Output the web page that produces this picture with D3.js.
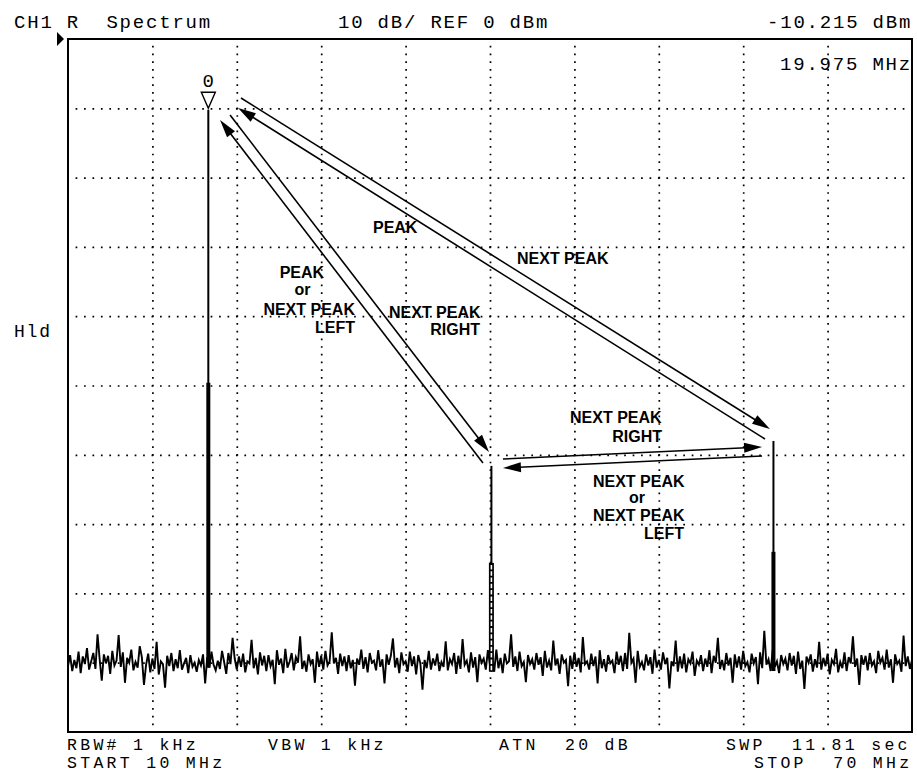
<!DOCTYPE html>
<html><head><meta charset="utf-8">
<script src="https://cdn.jsdelivr.net/npm/d3@7"></script>
<style>html,body{margin:0;padding:0;background:#fff;}svg{display:block}</style>
</head><body>
<svg id="c" width="917" height="777"></svg>
<script>
// ---- data ----
const freqStart = 10, freqStop = 70;          // MHz
const refLevel = 0, dbPerDiv = 10;            // dBm
const freqGrid = [16, 22, 28, 34, 40, 46, 52, 58, 64];
const levelGrid = [-10, -20, -30, -40, -50, -60, -70, -80, -90];
const markerFreq = 19.975, markerLevel = -10.215;
const peakFreqs = [19.975, 40.1, 60.15];
const peakLevels = [-10.215, -61.6, -58.0];
const peakSkirtLevels = [-49.6, -75.6, -74.0];
const noiseLevels = [
-90.5,-88.9,-91.2,-89.6,-90.8,-88.4,-91.5,-89.1,-90.2,-87.9,-91.0,-89.8,-88.6,-90.9,-85.9,-89.5,-92.6,-88.8,-90.1,-89.0,
-91.6,-88.3,-90.4,-89.7,-86.0,-90.6,-88.5,-92.9,-89.3,-90.0,-88.1,-91.1,-89.9,-90.7,-87.6,-89.2,-93.2,-90.3,-88.7,-91.4,
-89.4,-90.9,-87.0,-91.7,-89.8,-90.2,-93.6,-89.0,-90.5,-88.6,-91.2,-89.5,-90.8,-88.2,-91.0,-90.1,-89.3,-91.5,-88.9,-90.6,
-90.0,-91.3,-89.6,-90.4,-88.8,-93.0,-89.2,-90.7,-88.4,-90.3,-91.1,-89.7,-90.9,-88.3,-89.9,-91.6,-88.6,-90.2,-86.4,-89.4,
-91.0,-89.1,-90.6,-88.7,-91.4,-89.8,-90.1,-86.7,-90.8,-89.3,-91.7,-88.5,-90.4,-89.0,-91.2,-88.9,-90.5,-89.6,-93.1,-88.2,
-90.3,-89.4,-91.5,-88.0,-90.7,-89.9,-88.6,-91.1,-89.2,-90.0,-86.2,-90.9,-89.7,-91.3,-88.8,-90.2,-89.5,-92.9,-88.4,-90.6,
-89.0,-91.0,-88.3,-90.4,-89.8,-85.6,-90.1,-89.3,-91.6,-88.7,-90.5,-89.1,-91.2,-88.9,-90.8,-89.6,-93.3,-89.4,-90.3,-88.1,
-90.9,-89.2,-91.4,-88.6,-90.0,-89.7,-91.1,-88.2,-90.6,-89.5,-93.0,-88.8,-90.3,-89.0,-86.5,-90.7,-89.3,-91.5,-88.5,-90.2,
-89.8,-91.3,-88.4,-90.5,-89.1,-91.7,-88.9,-90.1,-93.9,-89.6,-90.8,-88.3,-91.0,-89.4,-90.4,-88.7,-91.2,-89.9,-90.6,-86.9,
-91.1,-89.5,-90.2,-88.6,-91.6,-89.0,-90.9,-86.6,-90.3,-89.7,-91.4,-88.5,-90.7,-89.2,-92.8,-88.8,-90.0,-89.4,-91.0,-88.2,
-90.4,-89.6,-91.3,-88.1,-90.8,-89.3,-91.5,-88.7,-90.1,-89.8,-85.9,-90.6,-89.1,-91.2,-88.4,-90.5,-89.9,-92.8,-88.9,-90.2,
-89.5,-91.0,-88.6,-90.3,-89.2,-91.9,-88.3,-90.7,-89.7,-91.1,-86.8,-90.4,-89.4,-91.6,-88.8,-90.0,-89.6,-93.4,-89.0,-90.9,
-88.5,-90.6,-89.3,-91.4,-86.3,-90.2,-89.8,-91.0,-88.7,-90.5,-89.1,-93.0,-88.2,-90.8,-89.5,-91.3,-88.9,-90.1,-89.7,-91.5,
-88.4,-90.3,-89.0,-91.2,-88.6,-90.9,-85.7,-90.0,-89.4,-92.9,-88.3,-90.6,-89.9,-91.1,-88.8,-90.4,-89.2,-91.6,-88.1,-90.7,
-89.6,-91.0,-88.5,-90.2,-89.3,-93.7,-89.8,-90.5,-86.8,-91.3,-89.1,-90.8,-88.7,-91.4,-89.5,-90.1,-88.4,-91.9,-89.7,-90.3,
-88.9,-91.2,-89.4,-90.6,-88.2,-91.5,-89.0,-90.0,-86.4,-90.9,-89.6,-91.1,-88.6,-90.4,-89.3,-92.9,-88.8,-90.7,-89.1,-91.0,
-88.3,-90.5,-89.9,-91.4,-88.7,-90.1,-89.2,-93.1,-88.5,-90.8,-85.4,-90.3,-89.5,-91.2,-88.1,-90.6,-89.8,-91.5,-88.9,-90.2,
-89.4,-91.1,-88.6,-90.4,-89.0,-91.6,-88.4,-90.9,-89.7,-93.8,-89.1,-90.0,-88.8,-91.3,-89.5,-90.7,-87.0,-91.0,-89.3,-90.5,
-88.7,-91.7,-89.6,-90.2,-88.0,-91.4,-89.9,-90.8,-88.5,-91.2,-89.2,-90.1,-86.2,-90.6,-89.4,-93.2,-88.9,-90.3,-89.0,-91.1,
-88.6,-90.4,-89.8,-91.5,-88.3,-90.0,-89.3,-91.0,-88.1,-90.7,-89.5,-92.9,-88.8,-90.2,-89.7,-91.3,-86.1,-90.5,-89.1,-90.9,
-89.6];
// annotation arrows: [MHz, dBm] start and end
const arrowFrom = [[22.30,-8.51],[59.55,-57.72],[39.50,-61.18],[21.52,-10.97],[40.92,-60.61],[59.34,-60.17]];
const arrowTo   = [[59.90,-56.28],[22.09,-9.96],[20.81,-11.69],[39.93,-59.60],[59.34,-58.87],[40.92,-61.90]];
const labelTexts  = ["PEAK","NEXT PEAK","PEAK","or","NEXT PEAK","LEFT","NEXT PEAK","RIGHT","NEXT PEAK","RIGHT","NEXT PEAK","or","NEXT PEAK","LEFT"];
const labelFreqs  = [31.68,41.92,26.63,26.67,30.40,30.40,32.82,39.29,45.69,52.23,47.32,50.45,47.32,53.79];
const labelLevels = [-27.99,-32.47,-34.49,-36.94,-39.83,-42.42,-40.26,-42.71,-55.41,-58.15,-64.65,-66.96,-69.55,-72.15];
const labelAnchors = ["start","start","middle","middle","end","end","start","end","start","end","start","middle","start","end"];

// ---- layout ----
const L = 68, R = 912, T = 39, B = 732;
const svg = d3.select("#c");
const x = d3.scaleLinear().domain([freqStart, freqStop]).range([L, R]);
const y = d3.scaleLinear().domain([refLevel, refLevel - 10 * dbPerDiv]).range([T, B]);
const sweepFreqs = noiseLevels.map((_, i) => freqStart + i * (freqStop - freqStart) / (noiseLevels.length - 1));

// grid through axes
const gx = svg.append("g").attr("transform", `translate(0,${B})`)
  .call(d3.axisBottom(x).tickValues(freqGrid).tickSize(-(B - T)).tickFormat(""));
gx.select(".domain").remove();
gx.selectAll("line").attr("stroke", "#000").attr("stroke-width", 1.7)
  .attr("stroke-dasharray", "1.7 6.0").attr("stroke-dashoffset", 0.85);
const gy = svg.append("g").attr("transform", `translate(${L},0)`)
  .call(d3.axisLeft(y).tickValues(levelGrid).tickSize(-(R - L)).tickFormat(""));
gy.select(".domain").remove();
gy.selectAll("line").attr("stroke", "#000").attr("stroke-width", 1.7)
  .attr("stroke-dasharray", "1.7 6.74").attr("stroke-dashoffset", 0.85);

// clip
svg.append("clipPath").attr("id", "clip").append("rect")
  .attr("x", L).attr("y", T).attr("width", R - L).attr("height", B - T);
const plot = svg.append("g").attr("clip-path", "url(#clip)");

// noise trace
plot.append("path").datum(noiseLevels)
  .attr("d", d3.line().x((d, i) => x(sweepFreqs[i])).y(d => y(d)))
  .attr("fill", "none").attr("stroke", "#000").attr("stroke-width", 1.9)
  .attr("stroke-linejoin", "miter");

// peaks
function baseAt(f) {
  const i = Math.round((f - freqStart) / (freqStop - freqStart) * (noiseLevels.length - 1));
  return Math.min(noiseLevels[i], noiseLevels[i - 1], noiseLevels[i + 1]);
}
peakFreqs.forEach((f, i) => {
  const px = x(f), base = y(baseAt(f));
  plot.append("line").attr("x1", px).attr("x2", px).attr("y1", base).attr("y2", y(peakLevels[i]))
    .attr("stroke", "#000").attr("stroke-width", 2);
  const sk = y(peakSkirtLevels[i]);
  if (i === 1) {
    plot.append("rect").attr("x", px - 2.5).attr("y", sk).attr("width", 5).attr("height", base - sk)
      .attr("fill", "#000");
    plot.append("line").attr("x1", px).attr("x2", px).attr("y1", sk + 2).attr("y2", base)
      .attr("stroke", "#fff").attr("stroke-width", 1.6).attr("stroke-dasharray", "4.5 1.8");
  } else {
    plot.append("rect").attr("x", px - 2).attr("y", sk).attr("width", 4).attr("height", base - sk)
      .attr("fill", "#000");
  }
});

// frame
svg.append("rect").attr("x", L).attr("y", T).attr("width", R - L).attr("height", B - T)
  .attr("fill", "none").attr("stroke", "#000").attr("stroke-width", 2);

// reference pointer
svg.append("path").attr("d", `M${L - 11},${y(refLevel) - 7}L${L - 4},${y(refLevel)}L${L - 11},${y(refLevel) + 7}Z`)
  .attr("fill", "#000");

// marker
const mx = x(markerFreq), my = y(markerLevel) - 1.5;
svg.append("path").attr("d", `M${mx},${my}L${mx - 7},${my - 16}L${mx + 7},${my - 16}Z`)
  .attr("fill", "#fff").attr("stroke", "#000").attr("stroke-width", 1.4);

// arrows
arrowFrom.forEach((p, i) => {
  const x1 = x(p[0]), y1 = y(p[1]), x2 = x(arrowTo[i][0]), y2 = y(arrowTo[i][1]);
  const ang = Math.atan2(y2 - y1, x2 - x1), len = 18, hw = 5;
  const bx = x2 - len * Math.cos(ang), by = y2 - len * Math.sin(ang);
  svg.append("line").attr("x1", x1).attr("y1", y1).attr("x2", bx + 2 * Math.cos(ang)).attr("y2", by + 2 * Math.sin(ang))
    .attr("stroke", "#000").attr("stroke-width", 1.6);
  const nx = -Math.sin(ang) * hw, ny = Math.cos(ang) * hw;
  svg.append("path").attr("d", `M${x2},${y2}L${bx + nx},${by + ny}L${bx - nx},${by - ny}Z`).attr("fill", "#000");
});

// annotation labels
labelTexts.forEach((t, i) => {
  svg.append("text").attr("x", x(labelFreqs[i])).attr("y", y(labelLevels[i]))
    .attr("text-anchor", labelAnchors[i])
    .attr("font-family", "'Liberation Sans', Arial, sans-serif").attr("font-weight", "bold")
    .attr("font-size", 16).attr("fill", "#000").text(t);
});

// instrument annotations
function mono(txt, px, py, size, ls) {
  svg.append("text").attr("x", px).attr("y", py)
    .attr("font-family", "'Liberation Mono', 'DejaVu Sans Mono', monospace")
    .attr("font-size", size || 19).attr("letter-spacing", (ls || 1.8) + "px")
    .style("white-space", "pre").attr("fill", "#000").text(txt);
}
mono("CH1 R  Spectrum", 14, 28);
mono("10 dB/ REF 0 dBm", 338, 28);
mono("-10.215 dBm", 767, 28);
mono("19.975 MHz", 780, 70);
mono("Hld", 14, 337, 18);
mono("RBW# 1 kHz", 67, 750, 16.5, 3.3);
mono("VBW 1 kHz", 268, 750, 16.5, 3.3);
mono("ATN  20 dB", 499, 750, 16.5, 3.3);
mono("SWP  11.81 sec", 726, 750, 16.5, 3.3);
mono("START 10 MHz", 67, 768, 16.5, 3.3);
mono("STOP  70 MHz", 754, 768, 16.5, 3.3);
svg.append("text").attr("x", mx).attr("y", my - 21).attr("text-anchor", "middle")
  .attr("font-family", "'Liberation Mono', 'DejaVu Sans Mono', monospace").attr("font-size", 19)
  .attr("fill", "#000").text("0");
</script>
</body></html>
